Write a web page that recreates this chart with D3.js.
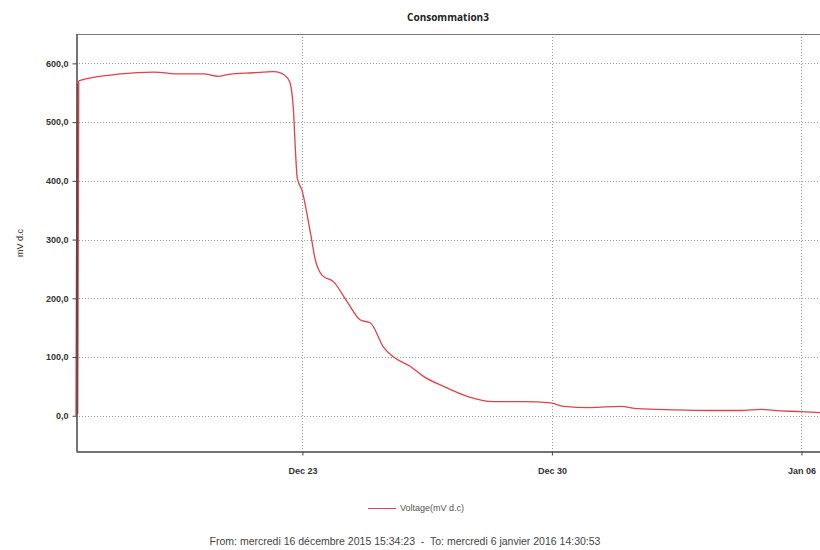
<!DOCTYPE html>
<html>
<head>
<meta charset="utf-8">
<script src="https://cdn.jsdelivr.net/npm/d3@7"></script>
<style>
  body { margin: 0; background: #fff; }
  svg { display: block; font-family: "Liberation Sans", Arial, sans-serif; }
  .grid line { stroke: #9a9a9a; stroke-dasharray: 1,2; }
  .axis path, .axis line { stroke: #444; }
  .axis text { font-size: 9px; font-weight: bold; fill: #333; }
</style>
</head>
<body>
<svg id="chart" width="820" height="550"></svg>
<script>
// ---------------- data ----------------
var times = [
  "2015-12-16 15:34", "2015-12-16 16:30", "2015-12-16 16:45", "2015-12-16 17:25",
  "2015-12-16 19:40", "2015-12-17 03:20", "2015-12-17 14:45", "2015-12-17 21:30",
  "2015-12-18 20:00", "2015-12-19 14:00", "2015-12-20 05:25", "2015-12-20 15:30",
  "2015-12-20 21:30", "2015-12-21 15:00", "2015-12-22 04:30", "2015-12-22 09:15",
  "2015-12-22 14:00", "2015-12-22 16:00", "2015-12-22 18:00", "2015-12-22 19:20",
  "2015-12-22 20:30", "2015-12-22 23:50", "2015-12-23 05:30", "2015-12-23 08:50",
  "2015-12-23 13:20", "2015-12-23 21:00", "2015-12-24 06:10", "2015-12-24 15:05",
  "2015-12-24 21:50", "2015-12-25 06:35", "2015-12-25 13:20", "2015-12-26 00:45",
  "2015-12-26 09:30", "2015-12-26 23:00", "2015-12-27 14:55", "2015-12-28 08:40",
  "2015-12-29 04:55", "2015-12-29 23:00", "2015-12-30 07:50", "2015-12-31 02:00",
  "2015-12-31 22:10", "2016-01-01 09:35", "2016-01-02 09:55", "2016-01-03 09:05",
  "2016-01-04 07:10", "2016-01-04 20:35", "2016-01-05 05:20", "2016-01-05 23:25",
  "2016-01-06 14:30"
];
var voltage = [
  0, 566, 4, 570,
  572, 576, 580, 582,
  585, 582, 582, 578,
  581, 584, 586, 584,
  575, 564, 519, 451,
  405, 383, 310, 264,
  239, 228, 194, 163,
  158, 117, 100, 84,
  67, 50, 33, 24,
  24, 22, 16, 14,
  16, 12, 10, 9,
  9, 11, 9, 7,
  5
];
var yTicks = [0, 100, 200, 300, 400, 500, 600];
var xTickDates = ["2015-12-23", "2015-12-30", "2016-01-06"];
var xTickLabels = ["Dec 23", "Dec 30", "Jan 06"];
var startDate = "2015-12-16 15:34:23";
var endDate = "2016-01-06 14:30:53";

var chartTitle = "Consommation3";
var yLabel = "mV d.c";
var seriesName = "Voltage(mV d.c)";
var footer = "From: mercredi 16 décembre 2015 15:34:23  -  To: mercredi 6 janvier 2016 14:30:53";

// ---------------- setup ----------------
var parseT = d3.timeParse("%Y-%m-%d %H:%M");
var parseS = d3.timeParse("%Y-%m-%d %H:%M:%S");
var parseD = d3.timeParse("%Y-%m-%d");

var data = times.map(function(t, i) { return { date: parseT(t), v: voltage[i] }; });

var margin = { left: 76, top: 34, right: -3, bottom: 99 };
var width = 820, height = 550;
var svg = d3.select("#chart");

var x = d3.scaleTime()
  .domain([parseS(startDate), parseS(endDate)])
  .range([margin.left, width - margin.right]);

var y = d3.scaleLinear()
  .domain([-60, 650])
  .range([height - margin.bottom, margin.top]);

var fr = d3.formatLocale({ decimal: ",", thousands: " ", grouping: [3], currency: ["", " €"] });
var fmt = fr.format(".1f");

// gridlines
svg.append("g").attr("class", "grid")
  .selectAll("line.h").data(yTicks).enter().append("line")
    .attr("x1", margin.left).attr("x2", width)
    .attr("y1", d => Math.round(y(d)) + 0.5).attr("y2", d => Math.round(y(d)) + 0.5);

svg.append("g").attr("class", "grid")
  .selectAll("line.v").data(xTickDates).enter().append("line")
    .attr("y1", margin.top).attr("y2", height - margin.bottom)
    .attr("x1", d => Math.round(x(parseD(d))) + 0.5).attr("x2", d => Math.round(x(parseD(d))) + 0.5);

// top border
svg.append("line")
  .attr("x1", margin.left).attr("x2", width)
  .attr("y1", margin.top + 0.5).attr("y2", margin.top + 0.5)
  .attr("stroke", "#777").attr("stroke-width", 1.2);

// line
svg.append("path")
  .datum(data)
  .attr("fill", "none")
  .attr("stroke", "#e3404a")
  .attr("stroke-width", 1.3)
  .attr("stroke-linejoin", "round")
  .attr("d", d3.line().curve(d3.curveMonotoneX).x(d => x(d.date)).y(d => y(d.v)));

// axes
svg.append("g").attr("class", "axis")
  .attr("transform", "translate(" + (margin.left + 0.5) + ",0)")
  .call(d3.axisLeft(y).tickValues(yTicks).tickFormat(fmt).tickSizeInner(4).tickSizeOuter(0).tickPadding(4));

svg.append("g").attr("class", "axis")
  .attr("transform", "translate(0," + (height - margin.bottom + 0.5) + ")")
  .call(d3.axisBottom(x).tickValues(xTickDates.map(parseD))
    .tickFormat((d, i) => xTickLabels[i]).tickSizeInner(4).tickSizeOuter(0).tickPadding(12));

svg.selectAll(".axis .domain").attr("stroke-width", 1.5);

// title
svg.append("text")
  .attr("x", 448).attr("y", 21)
  .attr("text-anchor", "middle")
  .style("font-family", "'Open Sans', sans-serif")
  .style("font-size", "10px").style("font-weight", "bold").style("fill", "#222")
  .text(chartTitle);

// y label
svg.append("text")
  .attr("transform", "translate(23,243) rotate(-90)")
  .attr("text-anchor", "middle")
  .style("font-size", "9px").style("fill", "#333")
  .text(yLabel);

// legend
svg.append("line")
  .attr("x1", 368).attr("x2", 396).attr("y1", 508.5).attr("y2", 508.5)
  .attr("stroke", "#e3404a").attr("stroke-width", 1);
svg.append("text")
  .attr("x", 400).attr("y", 511)
  .style("font-size", "9px").style("fill", "#555")
  .text(seriesName);

// footer
svg.append("text")
  .attr("x", 405).attr("y", 545)
  .attr("text-anchor", "middle")
  .style("white-space", "pre")
  .style("font-size", "10.5px").style("fill", "#444")
  .text(footer);
</script>
</body>
</html>
